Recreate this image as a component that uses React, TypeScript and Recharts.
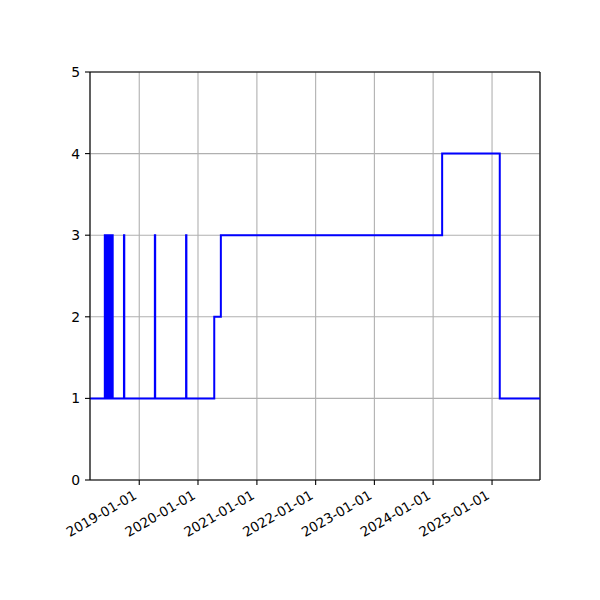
import { LineChart, Line, XAxis, YAxis, CartesianGrid, ReferenceLine } from "recharts";

// step changes: the value holds from each date until the next one
const changeDates = [
  "2018-03-01",
  "2018-06-01", "2018-06-04", "2018-06-08", "2018-06-12", "2018-06-17", "2018-06-22",
  "2018-06-27", "2018-07-02", "2018-07-07", "2018-07-12", "2018-07-15", "2018-07-20",
  "2018-09-28", "2018-09-30",
  "2019-04-08", "2019-04-10",
  "2019-10-19", "2019-10-21",
  "2020-04-11", "2020-05-22",
  "2024-02-26", "2025-02-18",
  "2025-10-26",
];
const changeValues = [
  1,
  3, 1, 3, 1, 3, 1,
  3, 1, 3, 1, 3, 1,
  3, 1,
  3, 1,
  3, 1,
  2, 3,
  4, 1,
  1,
];

const yearTicks = [
  "2019-01-01", "2020-01-01", "2021-01-01", "2022-01-01",
  "2023-01-01", "2024-01-01", "2025-01-01",
];
const yTicks = [0, 1, 2, 3, 4, 5];

const data = changeDates.map((d, i) => ({ t: Date.parse(d), v: changeValues[i] }));
const xStart = Date.parse(changeDates[0]);
const xEnd = Date.parse(changeDates[changeDates.length - 1]);

const font = "'DejaVu Sans', sans-serif";

function fmtDate(t: number) {
  return new Date(t).toISOString().slice(0, 10);
}

function DateTick(props: any) {
  const { x, y, payload } = props;
  const ax = x - 1.5;
  const ay = y + 13;
  return (
    <text
      x={ax}
      y={ay}
      textAnchor="end"
      fontSize={13.5}
      fontFamily={font}
      fill="#000"
      transform={`rotate(-30, ${ax}, ${ay})`}
    >
      {fmtDate(payload.value)}
    </text>
  );
}

export default function App() {
  return (
    <div style={{ position: "absolute", left: 0, top: 0, width: 600, height: 600, background: "#fff" }}>
      <LineChart
        width={600}
        height={600}
        data={data}
        margin={{ top: 72, right: 60, left: 50, bottom: 60 }}
      >
        <CartesianGrid stroke="#b0b0b0" strokeWidth={1.1} />
        <XAxis
          dataKey="t"
          type="number"
          scale="time"
          domain={[xStart, xEnd]}
          ticks={yearTicks.map((d) => Date.parse(d))}
          interval={0}
          tick={<DateTick />}
          tickSize={5}
          tickMargin={0}
          height={60}
          axisLine={{ stroke: "#000", strokeWidth: 1.1 }}
          tickLine={{ stroke: "#000", strokeWidth: 1.1 }}
          allowDataOverflow
        />
        <YAxis
          type="number"
          domain={[0, 5]}
          ticks={yTicks}
          interval={0}
          width={40}
          tickSize={5}
          tickMargin={5}
          tick={{ fontSize: 13.9, fontFamily: font, fill: "#000" }}
          axisLine={{ stroke: "#000", strokeWidth: 1.1 }}
          tickLine={{ stroke: "#000", strokeWidth: 1.1 }}
        />
        <ReferenceLine y={5} stroke="#000" strokeWidth={1.1} />
        <ReferenceLine x={xEnd} stroke="#000" strokeWidth={1.1} />
        <Line
          type="stepAfter"
          dataKey="v"
          stroke="#0000ff"
          strokeWidth={2}
          dot={false}
          isAnimationActive={false}
        />
      </LineChart>
    </div>
  );
}
